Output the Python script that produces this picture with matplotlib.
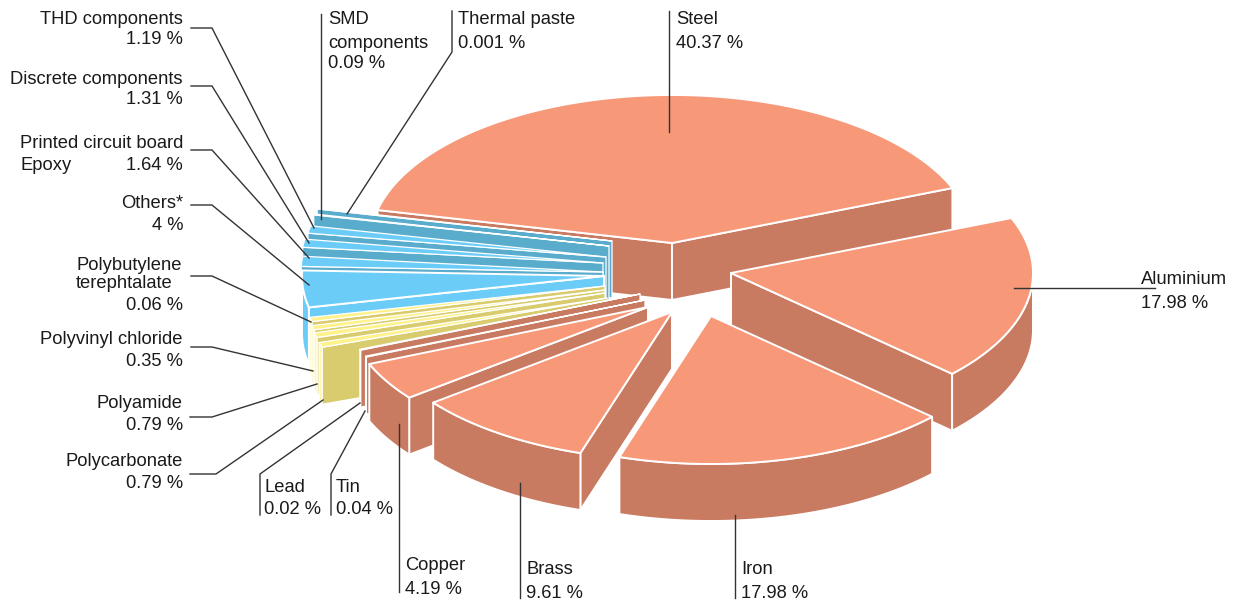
"""Exploded 3D pie of material shares, built by hand from ellipse projections."""
import numpy as np
import matplotlib
matplotlib.use("Agg")
import matplotlib.pyplot as plt
from matplotlib.patches import Polygon

plt.rcParams["font.family"] = ["Liberation Sans", "DejaVu Sans"]

# clockwise from the steel slice
materials = ["Steel", "Aluminium", "Iron", "Brass", "Copper", "Tin", "Lead", "Polycarbonate", "Polyamide",
             "Polyvinyl chloride", "Polybutylene terephtalate", "Others*", "Printed circuit board Epoxy",
             "Discrete components", "THD components", "SMD components", "Thermal paste"]
shares = [40.37, 17.98, 17.98, 9.61, 4.19, 0.04, 0.02, 0.79, 0.79, 0.35, 0.06, 4, 1.64, 1.31, 1.19, 0.09, 0.001]
groups = ["metal"] * 7 + ["plastic"] * 4 + ["other"] + ["electronics"] * 5

# top, radial wall, rim
COL = {"metal": ("#f79878", "#c97b62", "#c97b62"),
       "plastic": ("#fff28a", "#d9cc6e", "#fff7b0"),
       "other": ("#6bcdf7", "#6bcdf7", "#6bcdf7"),
       "electronics": ("#6bcdf7", "#5aaccc", "#6bcdf7")}
FLOOR = {"metal": 0.15, "plastic": 0.7, "other": 0.15, "electronics": 0.15}  # thinnest slice that still shows

RX, RY, DEPTH = 302, 148, 57
START = 167.13  # hi edge of steel, degrees
GAP = 2.5  # angular gap between the metals and the plastics
# apex of every slice in figure pixels, same order as materials
APEX = [(672, 243), (731, 273), (711, 316), (672, 312), (648, 307), (645, 300), (640, 294), (607, 298), (605, 293),
        (605, 290), (605, 286), (604, 276), (603, 272), (603, 263), (606, 257), (609, 246), (612, 241)]

s = np.array(shares, float)
big = s >= 4
shown = np.maximum(s, [FLOOR[g] for g in groups])
ang = np.where(big, s * 3.6, 0.0)
ang[~big] = (360 - GAP - ang[big].sum()) * shown[~big] / shown[~big].sum()
gaps = np.zeros(len(s)); gaps[materials.index("Polycarbonate")] = GAP
hi = START - np.concatenate([[0], np.cumsum(ang)[:-1]]) - np.cumsum(gaps)
lo = hi - ang


def pt(a, th):
    t = np.radians(th)
    return a[0] + RX * np.cos(t), a[1] - RY * np.sin(t)


def face(ax, xy, col, lw):
    ax.add_patch(Polygon(xy, closed=True, fc=col, ec="white", lw=lw, joinstyle="round"))


fig = plt.figure(figsize=(12.4, 6), dpi=100)
ax = fig.add_axes([0, 0, 1, 1])
ax.set_xlim(0, 1240); ax.set_ylim(600, 0); ax.axis("off")

# paint back to front
order = [0] + list(range(16, 3, -1)) + [3, 1, 2]
for i in order:
    a = APEX[i]
    top, wall, rim = COL[groups[i]]
    lw = 1.4 if ang[i] > 8 else 0.9
    ts = np.linspace(hi[i], lo[i], max(int(ang[i] * 2), 2) + 1)
    if np.cos(np.radians(hi[i])) < 0:
        p = pt(a, hi[i])
        face(ax, [a, p, (p[0], p[1] + DEPTH), (a[0], a[1] + DEPTH)], wall, lw)
    if np.cos(np.radians(lo[i])) > 0:
        p = pt(a, lo[i])
        face(ax, [a, p, (p[0], p[1] + DEPTH), (a[0], a[1] + DEPTH)], wall, lw)
    front = ts[np.sin(np.radians(ts)) <= 0]
    if len(front) > 1:
        arc = [pt(a, t) for t in front]
        face(ax, arc + [(x, y + DEPTH) for x, y in arc[::-1]], rim, lw)
    face(ax, [a] + [pt(a, t) for t in ts], top, lw)

# leader lines
leaders = [[(191, 28), (212, 28), (314, 228)], [(191, 86), (212, 86), (309, 243)], [(191, 150), (212, 150), (309, 258)],
           [(191, 205), (212, 205), (309, 285)], [(191, 276), (212, 276), (311, 322)], [(191, 347), (212, 347), (313, 371)],
           [(190, 417), (212, 417), (317, 384)], [(190, 474), (216, 474), (323, 400)], [(260, 515), (260, 474), (360, 403)],
           [(331, 515), (331, 474), (365, 411)], [(399, 424), (399, 592)], [(520, 483), (520, 598)], [(735, 515), (735, 598)],
           [(320.5, 14), (320.5, 219)], [(452, 11), (452, 52), (347, 214)], [(669, 11), (669, 132)], [(1155, 288), (1014, 288)]]
for ln in leaders:
    ax.plot(*zip(*ln), color="#333333", lw=1, solid_joinstyle="miter")

labels_right = [("THD components", 20), ("1.19 %", 39), ("Discrete components", 79), ("1.31 %", 100),
                ("Printed circuit board", 143), ("1.64 %", 165), ("Others*", 203), ("4 %", 225), ("0.06 %", 306),
                ("Polyvinyl chloride", 340), ("0.35 %", 362), ("Polyamide", 403), ("0.79 %", 425),
                ("Polycarbonate", 462), ("0.79 %", 484)]
labels_left = [("Epoxy", 20, 165), ("Polybutylene", 76, 265), ("terephtalate", 76, 284), ("Lead", 264, 488), ("0.02 %", 264, 509),
               ("Tin", 336, 488), ("0.04 %", 336, 509), ("SMD", 328, 20), ("components", 328, 43), ("0.09 %", 328, 64),
               ("Thermal paste", 458, 20), ("0.001 %", 458, 43), ("Steel", 676, 20), ("40.37 %", 676, 43),
               ("Aluminium", 1141, 280), ("17.98 %", 1141, 304), ("Copper", 405, 566), ("4.19 %", 405, 589),
               ("Brass", 526, 570), ("9.61 %", 526, 593), ("Iron", 741, 570), ("17.98 %", 741, 593)]
for t, y in labels_right:
    ax.text(183, y, t, ha="right", va="center", fontsize=13.2, color="#1a1a1a")
for t, x, y in labels_left:
    ax.text(x, y, t, ha="left", va="center", fontsize=13.2, color="#1a1a1a")

fig.savefig("out.png", dpi=100)
